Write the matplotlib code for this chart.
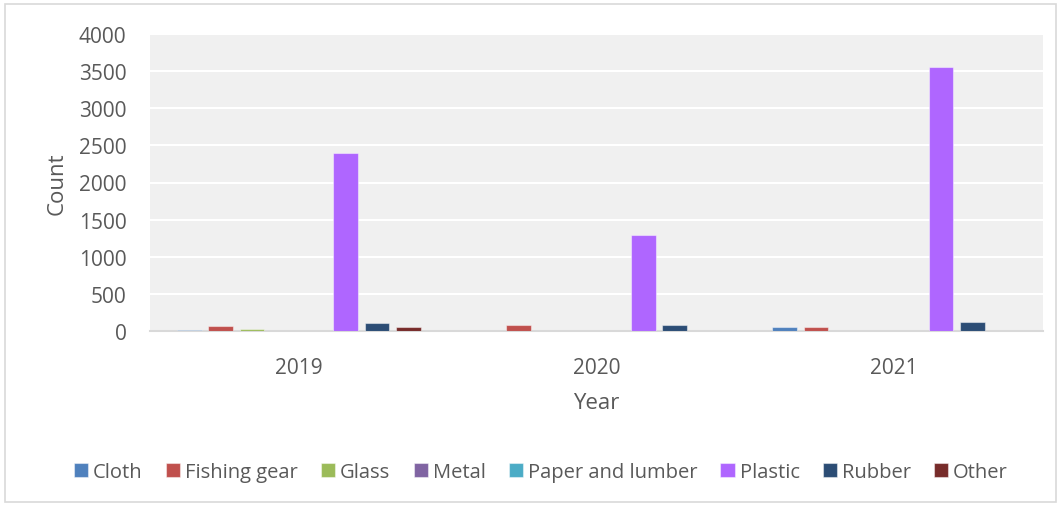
import matplotlib.pyplot as plt
import numpy as np
from matplotlib.patches import Rectangle

years = ["2019", "2020", "2021"]
materials = ["Cloth", "Fishing gear", "Glass", "Metal", "Paper and lumber",
             "Plastic", "Rubber", "Other"]
cloth = [8, 0, 60]
fishing_gear = [65, 85, 50]
glass = [25, 0, 0]
metal = [0, 0, 0]
paper_lumber = [0, 0, 0]
plastic = [2400, 1290, 3550]
rubber = [110, 75, 120]
other = [55, 0, 0]
series = [cloth, fishing_gear, glass, metal, paper_lumber, plastic, rubber, other]
colors = ["#4F81BD", "#C0504D", "#9BBB59", "#8064A2", "#4BACC6",
          "#AF66FF", "#2C4D75", "#772C2A"]
yticks = list(range(0, 4001, 500))

plt.rcParams['font.family'] = ['Open Sans', 'DejaVu Sans']
text_color = "#595959"

fig = plt.figure(figsize=(10.59, 5.06), dpi=100)
ax = fig.add_axes([150 / 1059, 1 - 332 / 506, 893 / 1059, 297 / 506])
ax.set_facecolor("#F0F0F0")

x = np.arange(len(years))
slot = 0.105
width = 0.083
for i, (name, vals, c) in enumerate(zip(materials, series, colors)):
    offs = (i - 3.5) * slot
    ax.bar(x + offs, vals, width=width, color=c, label=name,
           edgecolor=(1, 1, 1, 0.45), linewidth=0.8, zorder=3)

ax.set_xlim(-0.5, 2.5)
ax.set_ylim(0, 4000)
ax.set_yticks(yticks)
ax.set_xticks(x)
ax.set_xticklabels(years)
ax.tick_params(length=0, labelsize=15, colors=text_color)
ax.tick_params(axis='y', pad=17)
ax.tick_params(axis='x', pad=19)
ax.grid(axis='y', color='white', linewidth=1.5, zorder=0)
ax.set_axisbelow(True)
for s in ["top", "right", "left"]:
    ax.spines[s].set_visible(False)
ax.spines["bottom"].set_color("#D9D9D9")
ax.spines["bottom"].set_linewidth(1.5)

ax.set_ylabel("Count", fontsize=16, color=text_color, labelpad=8)
ax.set_xlabel("Year", fontsize=16, color=text_color, labelpad=10)

fig.legend(loc="center", bbox_to_anchor=(541 / 1059, 1 - 473 / 506), ncol=8,
           frameon=False, fontsize=14.5, handlelength=0.7, handleheight=0.7,
           handletextpad=0.25, columnspacing=1.15, labelcolor=text_color)

fig.patches.append(Rectangle((5 / 1059, 3 / 506), 1051 / 1059, 498 / 506,
                             transform=fig.transFigure, fill=False,
                             edgecolor="#D9D9D9", linewidth=1.2))

fig.savefig("out.png", dpi=100)
